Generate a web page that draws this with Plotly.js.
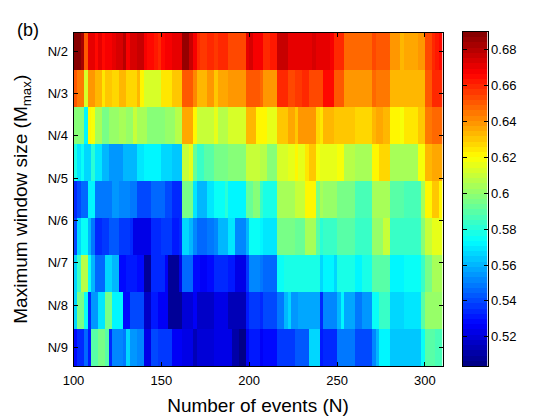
<!DOCTYPE html>
<html>
<head>
<meta charset="utf-8">
<script src="https://cdn.plot.ly/plotly-3.0.1.min.js"></script>
<style>html,body{margin:0;padding:0;background:#fff}</style>
</head>
<body>
<div id="chart" style="width:560px;height:420px"></div>
<script>
const rowLabels = ["N/2","N/3","N/4","N/5","N/6","N/7","N/8","N/9"];
const rowTicks = [1,2.143,3.286,4.429,5.571,6.714,7.857,9];
const xTicks = [100,150,200,250,300];
const barTicks = [0.52,0.54,0.56,0.58,0.6,0.62,0.64,0.66,0.68];
const barLabels = ["0.52","0.54","0.56","0.58","0.6","0.62","0.64","0.66","0.68"];
const zMin = 0.5037, zMax = 0.69;

const row1 = [.688,.688,.684,.650,.672,.670,.666,.672,.664,.667,.667,.670,.673,.675,.680,.668,.675,.675,.678,.678,.667,.666,.664,.662,.660,.666,.667,.667,.672,.672,.672,.686,.686,.676,.667,.658,.656,.656,.659,.660,.657,.660,.660,.660,.655,.655,.655,.655,.655,.672,.675,.668,.668,
.667,.660,.660,.662,.662,.676,.676,.676,.672,.672,.671,.671,.672,.672,.672,.674,.670,.670,.670,.670,.667,.660,.660,.660,.648,.648,.648,.648,.648,.648,.648,.648,.654,.650,.650,.652,.652,.640,.638,.638,.632,.635,.635,.635,.635,.640,.640,.654,.654,.660,.662,.664];
const row2 = [.650,.645,.645,.612,.638,.638,.632,.632,.625,.630,.630,.628,.628,.633,.633,.626,.626,.626,.632,.622,.613,.613,.613,.613,.613,.624,.624,.624,.629,.629,.629,.650,.650,.650,.642,.634,.634,.634,.640,.640,.630,.637,.637,.637,.640,.640,.640,.640,.640,.652,.652,.652,.652,
.648,.640,.640,.640,.640,.658,.658,.658,.654,.654,.657,.657,.660,.660,.655,.655,.655,.655,.664,.664,.664,.650,.650,.650,.638,.638,.638,.638,.638,.638,.638,.638,.647,.645,.645,.645,.645,.632,.632,.632,.632,.632,.632,.632,.632,.632,.632,.652,.652,.658,.658,.658];
const row3 = [.597,.597,.597,.573,.622,.618,.603,.603,.595,.595,.600,.600,.600,.604,.604,.601,.601,.610,.605,.605,.605,.597,.597,.597,.597,.597,.600,.600,.602,.607,.607,.635,.635,.635,.622,.610,.610,.610,.610,.610,.615,.607,.607,.607,.612,.612,.612,.612,.612,.632,.632,.632,.622,
.622,.622,.615,.615,.615,.630,.630,.630,.635,.635,.630,.638,.638,.639,.639,.639,.628,.624,.632,.632,.632,.630,.630,.630,.630,.630,.630,.626,.626,.628,.628,.628,.634,.637,.637,.632,.632,.622,.622,.622,.618,.624,.624,.624,.624,.631,.631,.645,.645,.648,.648,.648];
const row4 = [.578,.570,.575,.565,.565,.580,.570,.570,.560,.560,.556,.556,.556,.556,.561,.561,.561,.561,.570,.570,.573,.573,.573,.573,.573,.566,.566,.566,.562,.562,.562,.610,.610,.615,.592,.585,.585,.590,.590,.590,.595,.595,.595,.595,.597,.597,.597,.597,.597,.610,.610,.610,.610,
.608,.608,.597,.597,.597,.612,.612,.612,.615,.615,.622,.617,.617,.625,.629,.629,.620,.615,.615,.615,.615,.615,.620,.620,.607,.607,.607,.603,.603,.603,.603,.603,.622,.622,.626,.626,.626,.604,.604,.604,.604,.604,.604,.604,.604,.618,.618,.632,.632,.635,.635,.635];
const row5 = [.535,.540,.545,.545,.572,.572,.548,.548,.548,.550,.550,.555,.555,.553,.553,.553,.548,.548,.540,.540,.540,.540,.545,.545,.545,.545,.540,.540,.533,.533,.533,.595,.595,.595,.570,.561,.561,.561,.570,.570,.575,.575,.575,.580,.572,.572,.572,.572,.572,.592,.592,.598,.598,
.584,.578,.578,.578,.578,.603,.603,.603,.603,.603,.610,.610,.610,.622,.622,.622,.596,.603,.600,.600,.600,.600,.595,.595,.595,.595,.595,.588,.588,.588,.588,.588,.605,.605,.605,.605,.605,.590,.590,.590,.590,.586,.586,.586,.586,.586,.605,.622,.622,.630,.630,.622];
const row6 = [.540,.567,.575,.575,.560,.550,.535,.535,.538,.538,.542,.542,.542,.538,.538,.538,.535,.524,.524,.524,.524,.524,.533,.533,.533,.538,.538,.538,.530,.530,.535,.565,.565,.560,.552,.545,.545,.545,.548,.548,.552,.560,.560,.560,.568,.568,.553,.553,.553,.560,.574,.574,.574,
.572,.570,.570,.570,.570,.595,.595,.595,.595,.595,.592,.592,.592,.605,.605,.605,.590,.582,.585,.585,.585,.585,.590,.590,.590,.590,.590,.585,.585,.585,.585,.585,.600,.600,.600,.610,.610,.585,.585,.585,.585,.583,.583,.583,.583,.583,.598,.610,.610,.615,.615,.615];
const row7 = [.565,.585,.607,.607,.575,.560,.545,.545,.545,.565,.565,.560,.560,.527,.527,.531,.531,.531,.527,.527,.509,.509,.533,.533,.533,.533,.525,.508,.508,.508,.522,.545,.545,.545,.528,.528,.525,.525,.528,.528,.535,.535,.535,.535,.530,.530,.522,.522,.522,.537,.552,.552,.552,
.548,.545,.545,.545,.545,.574,.574,.577,.577,.577,.577,.577,.577,.578,.578,.578,.578,.565,.572,.572,.572,.567,.577,.577,.577,.577,.577,.572,.572,.578,.578,.578,.590,.590,.590,.590,.590,.573,.573,.573,.573,.574,.574,.574,.574,.574,.585,.595,.595,.603,.603,.603];
const row8 = [.565,.595,.595,.575,.535,.555,.555,.568,.568,.595,.595,.572,.572,.572,.527,.527,.540,.540,.540,.540,.518,.518,.532,.532,.525,.525,.525,.508,.508,.508,.508,.520,.520,.520,.525,.518,.518,.518,.518,.518,.522,.522,.522,.522,.513,.513,.513,.513,.513,.530,.538,.538,.538,
.535,.540,.540,.540,.540,.550,.550,.560,.565,.555,.555,.557,.557,.557,.557,.557,.557,.535,.553,.553,.553,.553,.560,.572,.557,.557,.557,.550,.550,.555,.555,.555,.575,.575,.583,.583,.583,.567,.567,.567,.567,.568,.568,.568,.568,.568,.590,.600,.600,.600,.600,.600];
const row9 = [.528,.535,.535,.545,.532,.590,.590,.596,.596,.590,.535,.552,.552,.552,.550,.565,.555,.555,.553,.553,.524,.524,.540,.540,.538,.538,.538,.538,.525,.525,.525,.522,.522,.522,.515,.519,.519,.519,.519,.519,.524,.524,.524,.524,.524,.510,.510,.505,.505,.525,.531,.531,.531,
.525,.528,.528,.528,.528,.538,.538,.538,.538,.538,.542,.542,.542,.542,.565,.565,.565,.530,.533,.533,.533,.533,.548,.548,.548,.548,.548,.540,.540,.540,.540,.540,.553,.560,.572,.572,.572,.563,.563,.563,.563,.563,.563,.563,.563,.563,.574,.590,.590,.590,.587,.587];
const rows = [row1,row2,row3,row4,row5,row6,row7,row8,row9];

// MATLAB jet(64), stepped
function jet(t){
  const c = v => Math.round(255*Math.max(0,Math.min(1,v)));
  return `rgb(${c(1.5-Math.abs(4*t-3))},${c(1.5-Math.abs(4*t-2))},${c(1.5-Math.abs(4*t-1))})`;
}
const nLevels = 64;
const colorscale = [];
for (let i=0;i<nLevels;i++){
  const col = jet((i+0.5)/nLevels);
  colorscale.push([i/nLevels,col],[(i+1)/nLevels,col]);
}
const levels = [];
for (let i=0;i<nLevels;i++) levels.push([zMin+(i+0.5)*(zMax-zMin)/nLevels]);

const W=560,H=420;
const font = {family:'"Liberation Sans",Arial,sans-serif',color:'#000'};
const traces = [
 {type:'heatmap',z:rows,x0:101,dx:2,y0:1,dy:1,zmin:zMin,zmax:zMax,colorscale:colorscale,showscale:false,zsmooth:false,xaxis:'x',yaxis:'y'},
 {type:'heatmap',z:levels,x:[0],y0:zMin+(zMax-zMin)/(2*nLevels),dy:(zMax-zMin)/nLevels,zmin:zMin,zmax:zMax,colorscale:colorscale,showscale:false,zsmooth:false,xaxis:'x2',yaxis:'y2'}
];
const layout = {
 width:W,height:H,margin:{l:0,r:0,t:0,b:0},paper_bgcolor:'#fff',plot_bgcolor:'#fff',showlegend:false,
 font:Object.assign({size:13},font),
 xaxis:{domain:[73.5/W,442.5/W],range:[100,310],anchor:'y',tickvals:xTicks,ticktext:xTicks.map(String),ticks:'inside',ticklen:4,tickcolor:'#000',showline:true,linecolor:'#000',linewidth:1,mirror:'ticks',showgrid:false,zeroline:false,tickfont:Object.assign({size:13},font),ticklabelstandoff:2,
   title:{text:'Number of events (N)',font:Object.assign({size:19},font),standoff:12}},
 yaxis:{domain:[(H-366)/H,(H-32.5)/H],range:[9.5,0.5],anchor:'x',tickvals:rowTicks,ticktext:rowLabels,ticks:'inside',ticklen:4,tickcolor:'#000',showline:true,linecolor:'#000',linewidth:1,mirror:'ticks',showgrid:false,zeroline:false,tickfont:Object.assign({size:13},font),ticklabelstandoff:2,
   title:{text:'Maximum window size (M<sub>max</sub>)',font:Object.assign({size:19},font),standoff:15}},
 xaxis2:{domain:[462.5/W,487.5/W],range:[-0.5,0.5],anchor:'y2',showticklabels:false,ticks:'',showline:true,linecolor:'#000',linewidth:1,mirror:true,showgrid:false,zeroline:false},
 yaxis2:{domain:[(H-366)/H,(H-32)/H],range:[zMin,zMax],anchor:'x2',side:'right',tickvals:barTicks,ticktext:barLabels,ticks:'inside',ticklen:4,tickcolor:'#000',showline:true,linecolor:'#000',linewidth:1,mirror:'ticks',showgrid:false,zeroline:false,tickfont:Object.assign({size:13},font)},
 annotations:[{text:'(b)',xref:'paper',yref:'paper',x:15/W,y:(H-30)/H,xanchor:'left',yanchor:'middle',showarrow:false,font:Object.assign({size:18},font)}]
};
Plotly.newPlot('chart',traces,layout,{displayModeBar:false,staticPlot:true});
</script>
</body>
</html>
